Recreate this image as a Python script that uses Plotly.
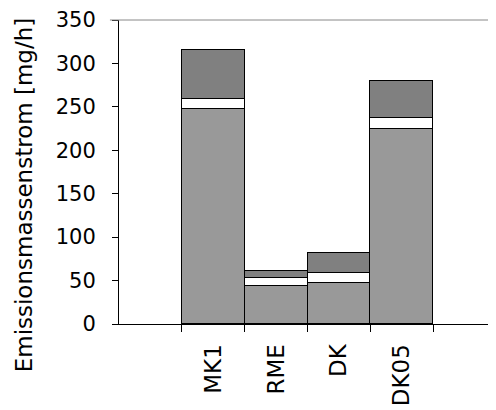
import plotly.graph_objects as go

categories = ["MK1", "RME", "DK", "DK05"]
base_values = [247, 44, 47.5, 224.5]
middle_values = [12, 9, 11, 13]
top_values = [57, 8.5, 23.5, 42]
y_ticks = [0, 50, 100, 150, 200, 250, 300, 350]

FONT = "DejaVu Sans, Arial, sans-serif"
line = dict(color="black", width=1.2)

fig = go.Figure()
fig.add_trace(go.Bar(x=categories, y=base_values, marker=dict(color="#999999", line=line), width=1))
fig.add_trace(go.Bar(x=categories, y=middle_values, marker=dict(color="#ffffff", line=line), width=1))
fig.add_trace(go.Bar(x=categories, y=top_values, marker=dict(color="#808080", line=line), width=1))

fig.update_layout(
    barmode="stack",
    bargap=0,
    width=488,
    height=402,
    margin=dict(l=111, r=0, t=12, b=86, pad=0),
    paper_bgcolor="white",
    plot_bgcolor="white",
    showlegend=False,
    font=dict(family=FONT, color="black"),
    xaxis=dict(
        type="category",
        categoryorder="array",
        categoryarray=categories,
        range=[-1.5, 4.5],
        tickson="boundaries",
        ticks="outside",
        ticklen=7,
        tickcolor="black",
        tickangle=-90,
        tickfont=dict(size=23, family=FONT, color="black"),
        ticklabelstandoff=10,
        showline=True,
        linecolor="black",
        linewidth=1,
        showgrid=False,
        zeroline=False,
        fixedrange=True,
    ),
    yaxis=dict(
        range=[0, 350],
        tickvals=y_ticks,
        ticks="outside",
        ticklen=6,
        tickcolor="black",
        tickfont=dict(size=21, family=FONT, color="black"),
        ticklabelstandoff=12,
        showline=True,
        linecolor="black",
        linewidth=1,
        showgrid=False,
        zeroline=False,
    ),
    shapes=[dict(type="line", xref="paper", yref="paper", x0=-0.024, x1=1, y0=1, y1=1,
                 line=dict(color="#888888", width=1))],
    annotations=[dict(text="Emissionsmassenstrom [mg/h]", textangle=-90, xref="paper", yref="paper",
                      x=-0.252, y=0.4266, xanchor="center", yanchor="middle", showarrow=False,
                      font=dict(size=23, family=FONT, color="black"))],
)

fig.write_html("out.html")
